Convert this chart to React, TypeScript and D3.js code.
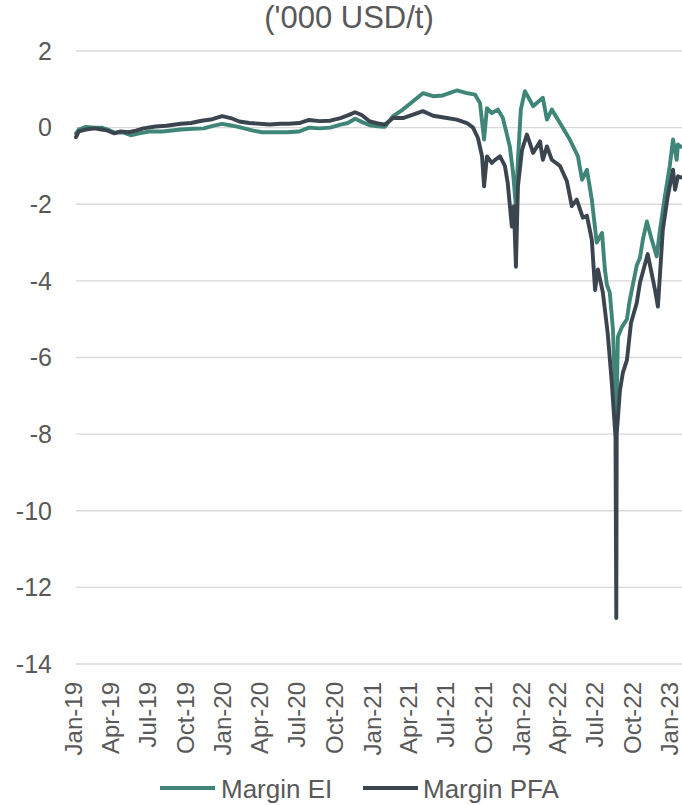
import React from 'react';
import * as d3 from 'd3';

// Margin EI (teal) and Margin PFA (dark slate), '000 USD/t
const eiDates = [
  '2019-01-01', '2019-01-08', '2019-01-25', '2019-02-15', '2019-03-05', '2019-03-20', '2019-04-05',
  '2019-04-25', '2019-05-15', '2019-06-05', '2019-07-01', '2019-08-01', '2019-09-15', '2019-10-15',
  '2019-11-10', '2019-12-05', '2019-12-25', '2020-01-20', '2020-02-10', '2020-03-10', '2020-04-01',
  '2020-05-01', '2020-06-01', '2020-07-01', '2020-07-25', '2020-08-20', '2020-09-15', '2020-10-10',
  '2020-10-28', '2020-11-15', '2020-12-01', '2020-12-21', '2021-01-15', '2021-01-27', '2021-02-16',
  '2021-03-12', '2021-04-06', '2021-04-30', '2021-05-25', '2021-06-18', '2021-07-22', '2021-08-16',
  '2021-09-05', '2021-09-17', '2021-09-27', '2021-10-04', '2021-10-16', '2021-10-31', '2021-11-12',
  '2021-11-29', '2021-12-07', '2021-12-14', '2021-12-19', '2021-12-26', '2022-01-05', '2022-01-12',
  '2022-01-25', '2022-02-18', '2022-02-28', '2022-03-12', '2022-04-01', '2022-04-25', '2022-05-15',
  '2022-05-25', '2022-06-06', '2022-06-18', '2022-06-30', '2022-07-13', '2022-07-20', '2022-07-25',
  '2022-08-01', '2022-08-09', '2022-08-14', '2022-08-17', '2022-08-21', '2022-08-31', '2022-09-12',
  '2022-09-19', '2022-10-06', '2022-10-14', '2022-10-21', '2022-10-31', '2022-11-12', '2022-11-24',
  '2022-12-02', '2022-12-14', '2022-12-26', '2023-01-03', '2023-01-12', '2023-01-15', '2023-01-22',
];
const eiValues = [
  -0.15, -0.05, 0.02, 0.0, 0.0, -0.05, -0.13,
  -0.12, -0.2, -0.15, -0.1, -0.1, -0.05, -0.03,
  -0.02, 0.05, 0.1, 0.05, 0.0, -0.08, -0.12,
  -0.12, -0.12, -0.1, 0.0, -0.02, 0.0, 0.08,
  0.12, 0.23, 0.15, 0.06, 0.03, 0.02, 0.3,
  0.47, 0.69, 0.9, 0.82, 0.84, 0.97, 0.9,
  0.86, 0.64, -0.31, 0.51, 0.38, 0.47, 0.25,
  -0.49, -1.18, -2.05, -0.84, 0.47, 0.95, 0.82,
  0.56, 0.78, 0.21, 0.47, 0.12, -0.31, -0.75,
  -1.36, -1.1, -1.88, -3.0, -2.75, -3.7, -4.1,
  -4.3, -5.3, -7.0, -7.5, -5.46, -5.2, -5.0,
  -4.5, -3.6, -3.4, -2.93, -2.45, -2.93, -3.36,
  -2.67, -1.8, -1.0, -0.31, -0.84, -0.44, -0.5,
];

const pfaDates = [
  '2019-01-01', '2019-01-08', '2019-01-25', '2019-02-15', '2019-03-05', '2019-03-20', '2019-04-05',
  '2019-04-20', '2019-05-10', '2019-05-28', '2019-06-15', '2019-07-15', '2019-08-10', '2019-09-15',
  '2019-10-10', '2019-11-05', '2019-12-01', '2019-12-25', '2020-01-15', '2020-02-05', '2020-03-01',
  '2020-03-25', '2020-04-20', '2020-05-15', '2020-06-05', '2020-07-01', '2020-07-25', '2020-08-20',
  '2020-09-15', '2020-10-10', '2020-10-28', '2020-11-15', '2020-12-01', '2020-12-21', '2021-01-15',
  '2021-01-27', '2021-02-16', '2021-03-12', '2021-04-06', '2021-04-30', '2021-05-25', '2021-06-28',
  '2021-07-22', '2021-08-16', '2021-08-31', '2021-09-12', '2021-09-22', '2021-09-27', '2021-10-04',
  '2021-10-16', '2021-10-24', '2021-11-05', '2021-11-17', '2021-11-24', '2021-12-04', '2021-12-09',
  '2021-12-14', '2021-12-19', '2021-12-29', '2022-01-10', '2022-01-17', '2022-01-25', '2022-02-11',
  '2022-02-18', '2022-02-28', '2022-03-12', '2022-04-01', '2022-04-18', '2022-04-30', '2022-05-12',
  '2022-05-27', '2022-06-06', '2022-06-18', '2022-06-26', '2022-07-03', '2022-07-15', '2022-07-27',
  '2022-08-06', '2022-08-15', '2022-08-17', '2022-08-18', '2022-08-26', '2022-09-02', '2022-09-12',
  '2022-09-22', '2022-10-06', '2022-10-14', '2022-11-02', '2022-11-20', '2022-11-27', '2022-12-09',
  '2022-12-21', '2023-01-03', '2023-01-08', '2023-01-15', '2023-01-22',
];
const pfaValues = [
  -0.25, -0.1, -0.05, -0.02, -0.05, -0.08, -0.15,
  -0.1, -0.12, -0.08, -0.02, 0.03, 0.05, 0.1,
  0.12, 0.18, 0.22, 0.3, 0.25, 0.16, 0.12,
  0.1, 0.08, 0.1, 0.1, 0.12, 0.2, 0.17,
  0.18, 0.25, 0.32, 0.4, 0.33, 0.16, 0.1,
  0.08, 0.25, 0.25, 0.34, 0.43, 0.31, 0.25,
  0.21, 0.12, 0.0, -0.27, -0.75, -1.53, -0.75,
  -0.92, -0.84, -0.75, -1.0, -1.45, -2.58, -2.05,
  -3.63, -1.53, -0.58, -0.18, -0.4, -0.66, -0.36,
  -0.84, -0.49, -0.84, -1.0, -1.4, -2.05, -1.88,
  -2.35, -2.3, -2.93, -4.24, -3.7, -4.3, -5.37,
  -6.67, -8.07, -12.8, -8.0, -6.85, -6.4, -6.07,
  -5.1, -4.58, -4.05, -3.3, -4.24, -4.67, -2.67,
  -1.8, -1.1, -1.62, -1.27, -1.3,
];

const yTicks = [2, 0, -2, -4, -6, -8, -10, -12, -14];
const xTickDates = [
  '2019-01-01', '2019-04-01', '2019-07-01', '2019-10-01', '2020-01-01', '2020-04-01',
  '2020-07-01', '2020-10-01', '2021-01-01', '2021-04-01', '2021-07-01', '2021-10-01',
  '2022-01-01', '2022-04-01', '2022-07-01', '2022-10-01', '2023-01-01',
];
const seriesNames = ['Margin EI', 'Margin PFA'];
const seriesColors = ['#3f8578', '#3b4550'];

const W = 682;
const H = 805;
const FONT = "'Liberation Sans', Arial, sans-serif";
const TEXT = '#595959';

const parse = d3.timeParse('%Y-%m-%d');
const fmt = d3.timeFormat('%b-%y');

const x = d3.scaleTime()
  .domain([parse('2019-01-01') as Date, parse('2023-01-25') as Date])
  .range([76, 682]);
const y = d3.scaleLinear().domain([-14, 2]).range([664, 51]);

type Pt = { d: Date; v: number };
const toPts = (dates: string[], vals: number[]): Pt[] =>
  dates.map((s, i) => ({ d: parse(s) as Date, v: vals[i] }));

const line = d3.line<Pt>().x(p => x(p.d)).y(p => y(p.v));

const series = [toPts(eiDates, eiValues), toPts(pfaDates, pfaValues)];

export default function App() {
  return (
    <div style={{ position: 'absolute', left: 0, top: 0 }}>
      <svg width={W} height={H} style={{ display: 'block', background: '#fff' }} fontFamily={FONT}>
        {/* first title line sits above the visible area, like the source crop */}
        <text x={349} y={28} textAnchor="middle" fontSize={31} fill={TEXT}>('000 USD/t)</text>

        {yTicks.map(t => (
          <g key={t}>
            <line x1={76} x2={682} y1={y(t)} y2={y(t)} stroke="#d9d9d9" strokeWidth={1.4} />
            <text x={52} y={y(t)} dy="0.35em" textAnchor="end" fontSize={25} fill={TEXT}>{t}</text>
          </g>
        ))}

        {xTickDates.map(s => {
          const d = parse(s) as Date;
          return (
            <text
              key={s}
              transform={`translate(${x(d)},682) rotate(-90)`}
              dy="0.26em"
              textAnchor="end"
              fontSize={24}
              fill={TEXT}
            >
              {fmt(d)}
            </text>
          );
        })}

        {series.map((pts, i) => (
          <path
            key={seriesNames[i]}
            d={line(pts) || ''}
            fill="none"
            stroke={seriesColors[i]}
            strokeWidth={3.9}
            strokeLinejoin="round"
            strokeLinecap="round"
          />
        ))}

        <g>
          <line x1={160} x2={215} y1={788} y2={788} stroke={seriesColors[0]} strokeWidth={3.9} />
          <text x={221} y={798} fontSize={26} fill={TEXT}>{seriesNames[0]}</text>
          <line x1={363} x2={418} y1={788} y2={788} stroke={seriesColors[1]} strokeWidth={3.9} />
          <text x={423} y={798} fontSize={26} fill={TEXT}>{seriesNames[1]}</text>
        </g>
      </svg>
    </div>
  );
}
